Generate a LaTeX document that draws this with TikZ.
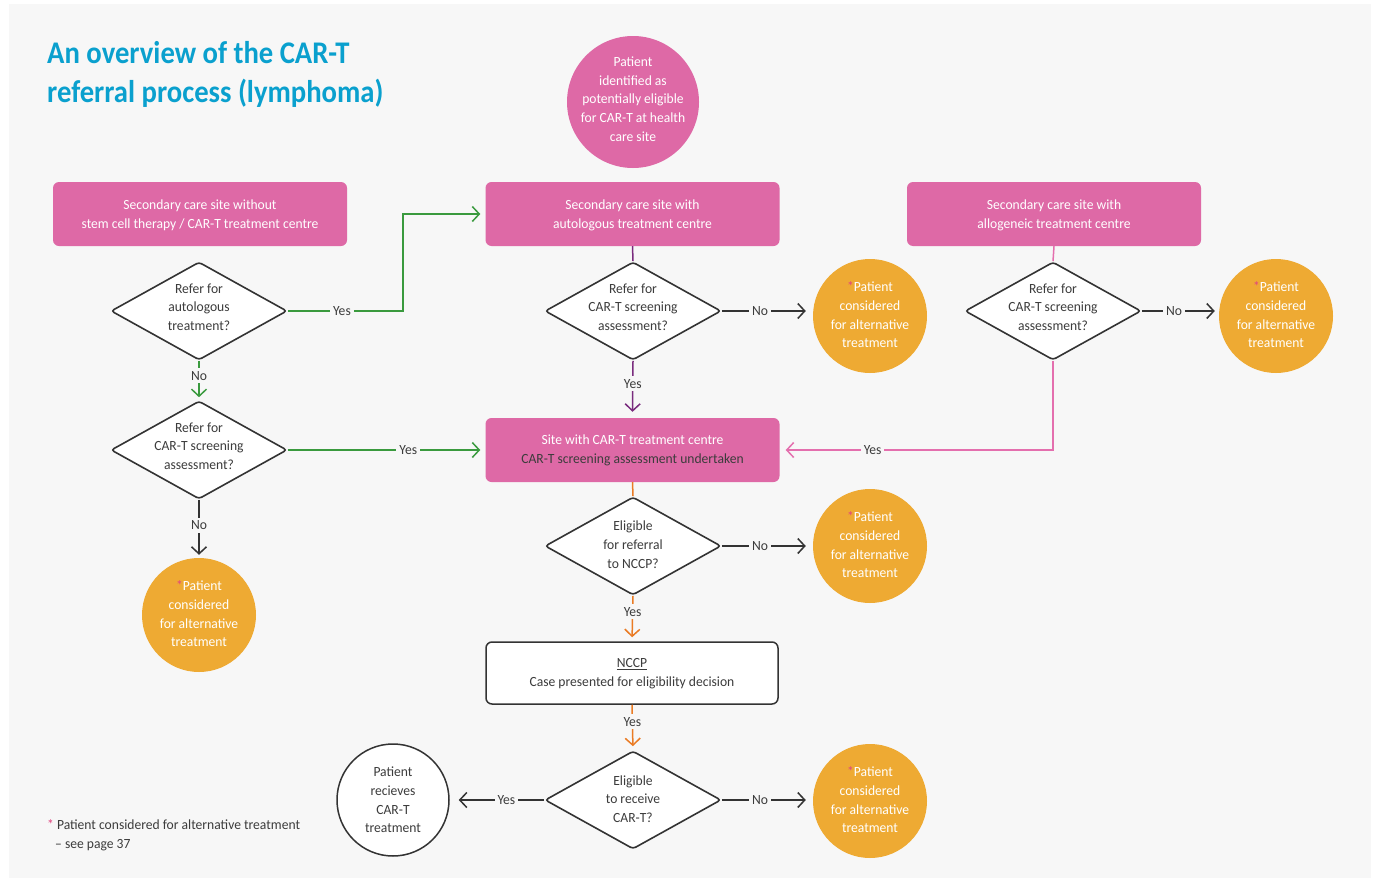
\documentclass[tikz,border=0pt]{standalone}
\usepackage{fontspec}
\setmainfont[FakeStretch=0.97]{Carlito}
\newfontfamily\titlefont[FakeStretch=0.91]{Carlito}
\usetikzlibrary{shapes.geometric,arrows.meta}
\definecolor{bg}{HTML}{F7F7F7}
\definecolor{pinkbox}{HTML}{DE69A6}
\definecolor{orng}{HTML}{EEAA33}
\definecolor{grn}{HTML}{3A9A3E}
\definecolor{purp}{HTML}{7A2C7E}
\definecolor{orline}{HTML}{EA7B24}
\definecolor{pinkline}{HTML}{E46FAE}
\definecolor{dark}{HTML}{333333}
\definecolor{txt}{HTML}{3C3C3C}
\definecolor{titleblue}{HTML}{0AA0CE}
\definecolor{ast}{HTML}{E0457F}
\begin{document}
\begin{tikzpicture}[x=1pt,y=-1pt,
  font=\fontsize{14}{18.7}\selectfont,
  pbox/.style={rectangle, rounded corners=6pt, fill=pinkbox, minimum width=294pt, minimum height=64pt, inner sep=0},
  nbox/.style={rectangle, rounded corners=6pt, fill=white, draw=dark, line width=1.5pt, minimum width=292pt, minimum height=62pt, inner sep=0},
  dia/.style={diamond, draw=dark, line width=1.6pt, rounded corners=3pt, fill=white, minimum width=176pt, minimum height=98pt, inner sep=0},
  alt/.style={circle, fill=orng, minimum size=114pt, inner sep=0},
  pcirc/.style={circle, fill=pinkbox, minimum size=132pt, inner sep=0},
  wcirc/.style={circle, fill=white, draw=dark, line width=1.5pt, minimum size=112pt, inner sep=0},
  tx/.style={align=center, inner sep=0, yshift=4pt},
  wt/.style={tx, text=white},
  dt/.style={tx, text=txt},
  lbl/.style={fill=bg, text=txt, inner sep=3pt},
  ln/.style={line width=1.5pt},
  arr/.style={line width=1.5pt, -{Straight Barb[length=7pt,width=15pt]}, shorten >=5pt},
]
\useasboundingbox (0,0) rectangle (1373,878);
\fill[white] (0,0) rectangle (1373,878);
\fill[bg] (9,4) rectangle (1371,878);

% title
\node[anchor=base west, inner sep=0, text=titleblue, font=\titlefont\bfseries\fontsize{31.5}{39}\selectfont] (title1) at (47,63) {An overview of the CAR-T};
\node[anchor=base west, inner sep=0, text=titleblue, font=\titlefont\bfseries\fontsize{31.5}{39}\selectfont] (title2) at (47,102) {referral process (lymphoma)};

% start circle
\node[pcirc] (start) at (633,102) {};
\node[wt, yshift=-1pt] (startt) at (start) {Patient\\identified as\\potentially eligible\\for CAR-T at health\\care site};

% pink boxes
\node[pbox] (b1) at (200,214) {};
\node[wt, yshift=-5.5pt] (b1t) at (b1) {Secondary care site without\\stem cell therapy / CAR-T treatment centre};
\node[pbox] (b2) at (632.5,214) {};
\node[wt, yshift=-5.5pt] (b2t) at (b2) {Secondary care site with\\autologous treatment centre};
\node[pbox] (b3) at (1054,214) {};
\node[wt, yshift=-5.5pt] (b3t) at (b3) {Secondary care site with\\allogeneic treatment centre};
\node[pbox] (b4) at (632.5,450) {};
\node[tx, yshift=-4pt] (b4t) at (b4) {\textcolor{white}{Site with CAR-T treatment centre}\\\textcolor{txt}{CAR-T screening assessment undertaken}};
\node[nbox] (nccp) at (632,673) {};
\node[dt, yshift=-5pt] (nccpt) at (nccp) {\underline{NCCP}\\Case presented for eligibility decision};

% diamonds
\node[dia] (d1) at (199,311) {};
\node[dt] (d1t) at (d1) {Refer for\\autologous\\treatment?};
\node[dia] (d2) at (199,450) {};
\node[dt] (d2t) at (d2) {Refer for\\CAR-T screening\\assessment?};
\node[dia] (d3) at (633,311) {};
\node[dt] (d3t) at (d3) {Refer for\\CAR-T screening\\assessment?};
\node[dia] (d4) at (1053,311) {};
\node[dt] (d4t) at (d4) {Refer for\\CAR-T screening\\assessment?};
\node[dia] (d5) at (633,546) {};
\node[dt, yshift=-2.5pt] (d5t) at (d5) {Eligible\\for referral\\to NCCP?};
\node[dia] (d6) at (633,800) {};
\node[dt, yshift=-3pt] (d6t) at (d6) {Eligible\\to receive\\CAR-T?};

% alternative treatment circles
\node[alt] (c1) at (870,316) {};
\node[wt, yshift=-3pt] (c1t) at (c1) {\textcolor{ast}{*}Patient\\considered\\for alternative\\treatment};
\node[alt] (c2) at (1276,316) {};
\node[wt, yshift=-3pt] (c2t) at (c2) {\textcolor{ast}{*}Patient\\considered\\for alternative\\treatment};
\node[alt] (c3) at (870,546) {};
\node[wt, yshift=-3pt] (c3t) at (c3) {\textcolor{ast}{*}Patient\\considered\\for alternative\\treatment};
\node[alt] (c4) at (870,801) {};
\node[wt, yshift=-3pt] (c4t) at (c4) {\textcolor{ast}{*}Patient\\considered\\for alternative\\treatment};
\node[alt] (c5) at (199,615) {};
\node[wt, yshift=-3pt] (c5t) at (c5) {\textcolor{ast}{*}Patient\\considered\\for alternative\\treatment};

% receives circle
\node[wcirc] (rc) at (393,800) {};
\node[dt, yshift=-4pt] (rct) at (rc) {Patient\\recieves\\CAR-T\\treatment};

% connectors
\draw[arr, grn] (d1.east) -- node[lbl, pos=0.47] (y1) {Yes} (403,311) |- (b2.west);
\draw[arr, grn, shorten >=3pt] (d1.south) -- node[lbl, pos=0.38] (n1) {No} (d2.north);
\draw[arr, grn] (d2.east) -- node[lbl, pos=0.61] (y2) {Yes} (d2.east -| b4.west);
\draw[arr, dark, shorten >=3pt] (d2.south) -- node[lbl, pos=0.44] (n2) {No} (c5.north);

\draw[ln, purp] (b2.south) -- (d3.north);
\draw[arr, purp, shorten >=6pt] (d3.south) -- node[lbl, pos=0.4] (y3) {Yes} (b4.north);
\draw[arr, dark, shorten >=7pt] (d3.east) -- node[lbl, pos=0.42] (n3) {No} (d3.east -| c1.west);

\draw[ln, pinkline] (b3.south) -- (d4.north);
\draw[arr, dark, shorten >=4pt] (d4.east) -- node[lbl, pos=0.42] (n4) {No} (d4.east -| c2.west);
\draw[arr, pinkline, shorten >=6pt] (d4.south) |- node[lbl, pos=0.83] (y4) {Yes} (b4.east);

\draw[ln, orline] (b4.south) -- (d5.north);
\draw[arr, dark, shorten >=7pt] (d5.east) -- node[lbl, pos=0.42] (n5) {No} (c3.west);
\draw[arr, orline, shorten >=4pt] (d5.south) -- node[lbl, pos=0.35] (y5) {Yes} (nccp.north);
\draw[arr, orline, shorten >=4pt] (nccp.south) -- node[lbl, pos=0.37] (y6) {Yes} (d6.north);
\draw[arr, dark, shorten >=7pt] (d6.east) -- node[lbl, pos=0.42] (n6) {No} (d6.east -| c4.west);
\draw[arr, dark, shorten >=9pt] (d6.west) -- node[lbl, pos=0.4] (y7) {Yes} (rc.east);

% footnote
\node[anchor=base west, inner sep=0, text=txt, font=\fontsize{14}{18}\selectfont] (fn1) at (47,829) {\textcolor{ast}{*} Patient considered for alternative treatment};
\node[anchor=base west, inner sep=0, text=txt, font=\fontsize{14}{18}\selectfont] (fn2) at (55,848) {-- see page 37};
\end{tikzpicture}
\end{document}
